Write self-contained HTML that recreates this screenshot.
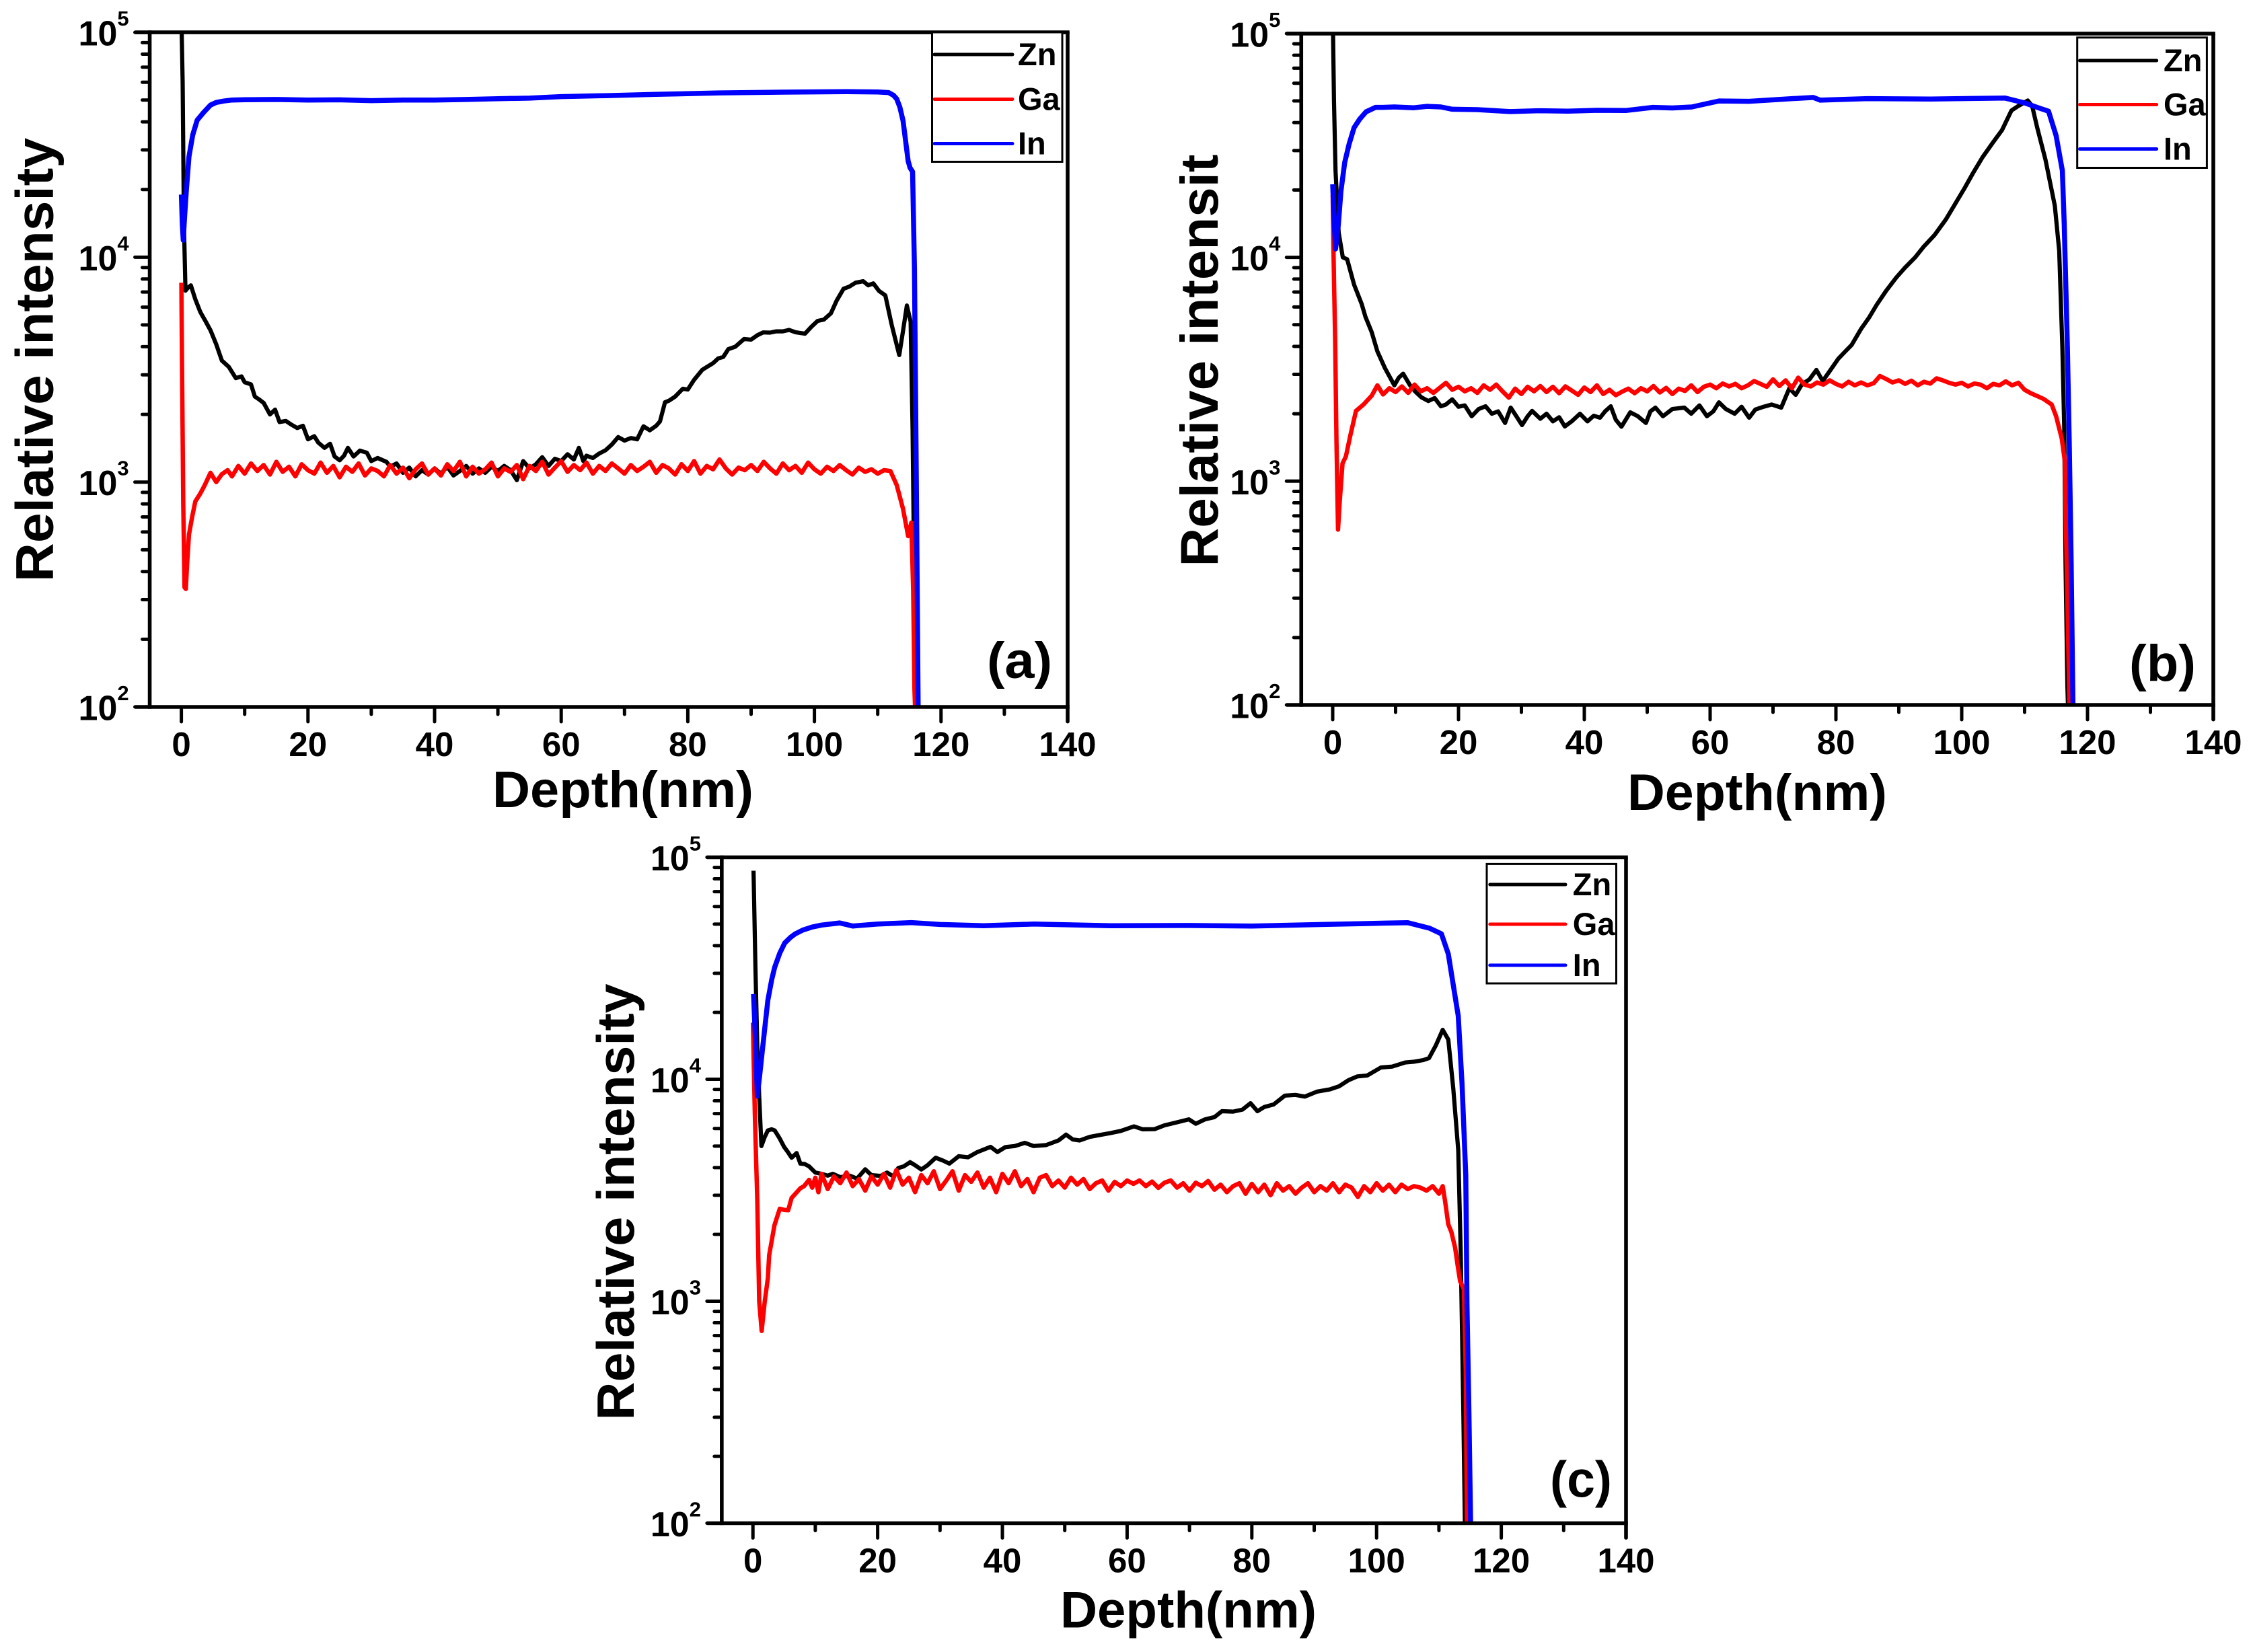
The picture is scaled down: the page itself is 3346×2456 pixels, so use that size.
<!DOCTYPE html>
<html lang="en">
<head>
<meta charset="utf-8">
<title>Relative intensity depth profiles</title>
<style>
html,body{margin:0;padding:0;background:#fff;}
svg{display:block;}
text{font-family:"Liberation Sans",sans-serif;font-weight:bold;fill:#000;}
</style>
</head>
<body>
<svg id="figure" xmlns="http://www.w3.org/2000/svg" width="3346" height="2456" viewBox="0 0 3346 2456"></svg>
<script>
/* shared axis ticks */
const xMajorTicks = [0,20,40,60,80,100,120,140];
const xMinorTicks = [10,30,50,70,90,110,130];
const yDecadeExponents = [2,3,4,5];
const yMinorFactors = [2,3,4,5,6,7,8,9];
const seriesNames = ["Zn","Ga","In"];

/* panel (a) */
const aZnDepth = [
0,0.2,0.4,0.65,1,1.5,2.2,3,3.8,4.6,
5.5,6.4,7.5,8.6,9.5,10,11,11.6,12.3,13,
14,14.8,15.5,16.5,17.4,18.3,19.2,20,21,21.6,
22.6,23.5,24.2,25,25.7,26.3,27.2,28.2,29.3,30,
31,32.4,33,34,35,36,37,38,39,40,
41,42,43,44,45,46,47,48,49,50,
51,52,53,54,55,56,57,58,59,60,
61,62,62.8,63.5,64,65,66,67,68,69,
70,71,72,73,74,75,75.6,76.4,77,78,
79.2,80,81,82.3,83,84,84.8,85.6,86.4,87.5,
88.9,90,91,91.9,93,94,95,96,97,98.5,
99.5,100.5,101.5,102.6,103.5,104.6,105.5,106.5,107.7,108.5,
109.3,110.2,111.2,112.2,113.4,114,114.6,115.2,115.5,115.8,116];
const aZnValues = [
120000,60000,14000,7100,7300,7500,6500,5700,5200,4730,
4100,3470,3250,2900,2950,2780,2720,2400,2330,2250,
2000,2100,1850,1870,1800,1740,1780,1550,1600,1500,
1420,1480,1300,1250,1310,1420,1300,1380,1350,1240,
1280,1230,1170,1210,1100,1160,1060,1130,1080,1150,
1090,1170,1070,1120,1180,1090,1150,1100,1170,1120,
1180,1130,1020,1240,1150,1200,1290,1180,1270,1240,
1330,1260,1420,1240,1310,1280,1340,1385,1470,1585,
1530,1570,1550,1770,1700,1780,1860,2265,2300,2400,
2600,2580,2850,3160,3250,3380,3550,3600,3900,4000,
4330,4300,4500,4630,4620,4680,4680,4750,4640,4570,
4900,5210,5280,5630,6400,7240,7400,7700,7820,7500,
7650,7080,6760,5010,3670,4700,6100,5170,1720,300,80];
const aGaDepth = [
0,0.1,0.3,0.5,0.7,0.9,1.2,1.7,2.2,3,
3.7,4.6,5.5,6.4,7.3,8,9,10,11,12,
13,14,15,16,17,18,19,20,21,22,
23,24,25,26,27,28,29,30,31,32,
33,34,35,36,37,38,39,40,41,42,
43,44,45,46,47,48,49,50,51,52,
53,54,55,56,57,58,59,60,61,62,
63,64,65,66,67,68,69,70,71,72,
73,74,75,76,77,78,79,80,81,82,
83,84,85,86,87,88,89,90,91,92,
93,94,95,96,97,98,99,100,101,102,
103,104,105,106,107,108,109,110,111,112,
113,114,114.8,115.3,115.6,115.8,116];
const aGaValues = [
7700,3500,800,340,335,430,584,700,820,890,
970,1100,1000,1085,1130,1060,1180,1090,1210,1120,
1190,1080,1230,1110,1170,1060,1200,1130,1090,1220,
1100,1180,1050,1170,1110,1210,1070,1150,1120,1060,
1190,1090,1160,1040,1140,1210,1080,1150,1070,1200,
1120,1230,1060,1170,1090,1140,1220,1060,1150,1110,
1190,1030,1180,1120,1230,1080,1160,1240,1110,1190,
1130,1220,1090,1180,1120,1210,1150,1090,1190,1120,
1170,1230,1100,1190,1150,1080,1200,1120,1240,1090,
1180,1140,1260,1150,1080,1160,1130,1190,1120,1230,
1150,1090,1210,1130,1180,1100,1220,1140,1090,1170,
1120,1190,1130,1080,1160,1110,1140,1090,1130,1120,
970,760,575,660,330,120,80];
const aInDepth = [
0,0.15,0.3,0.5,0.8,
1.2,1.8,2.5,3.5,4.6,
5.5,6.7,8,10,15,
20,25,30,35,40,
45,50,55,60,67,
75,85,95,105,110,
111.7,112.5,113,113.5,114,
114.4,114.8,115.1,115.5,115.8,
116.1,116.4];
const aInValues = [
19000,14000,11900,15000,20000,
28000,35000,40700,44000,47500,
48800,49500,50000,50200,50300,
50000,50100,49700,50000,50000,
50300,50700,51000,51800,52300,
53000,53800,54200,54500,54300,
54000,52500,50600,46500,40500,
33000,26800,25000,24000,8900,
1000,90];

/* panel (b) */
const bZnDepth = [
0,0.2,0.45,0.95,1.6,2.3,3.4,4.6,5.2,6.2,
7.1,8.3,9.8,10.5,11.2,12.3,13.2,14.1,15.2,16.2,
17.2,18,19,20,21,22.1,23.2,24.3,25.3,26.3,
27.4,28.3,29.2,30.1,31,31.7,33,34,35,36,
36.9,38,39.3,40.5,41.5,42.5,43.3,44.2,45,45.9,
47.3,48.5,49.8,50.5,51.3,52.5,54,55.9,57,58.3,
59.5,60.5,61.4,62.5,63.9,65,66.2,67.2,68.5,69.8,
71.3,72.6,73.6,74.6,75.8,76.9,77.9,79,80.4,81.5,
82.5,84,85.3,86.5,88,89.6,91,92.6,94,95.7,
97.5,99.3,100.5,101.8,103.3,104.9,106.4,107.9,109,110.5,
111.2,112,113.3,114.8,115.5,116,116.3,116.5,116.8,117];
const bZnValues = [
130000,50000,24400,12900,10000,9800,7550,6200,5430,4630,
3800,3200,2680,2900,3020,2680,2500,2370,2280,2350,
2160,2200,2320,2150,2180,1950,2100,2160,2000,2050,
1820,2130,1950,1780,1950,2060,1900,2000,1850,1930,
1755,1850,2000,1850,1960,1920,2050,2160,1880,1750,
2030,1950,1820,2050,2130,1950,2100,2130,2000,2180,
1950,2050,2250,2100,2000,2150,1920,2090,2150,2200,
2130,2600,2430,2710,2850,3140,2800,3100,3530,3800,
4060,4790,5400,6150,7100,8130,9000,10000,11200,12600,
14800,18000,20500,23800,28000,32400,37000,45300,47500,50200,
47500,38000,27400,17000,10700,3950,1720,430,120,80];
const bGaDepth = [
0,0.1,0.2,0.4,0.6,0.85,1.1,1.56,2.1,2.8,
3.7,4.9,6.2,7.1,8,9,10,11,12,13,
14,15,16,17,18,19,20,21,22,23,
24,25,26,27,28,29,30,31,32,33,
34,35,36,37,38,39,40,41,42,43,
44,45,46,47,48,49,50,51,52,53,
54,55,56,57,58,59,60,61,62,63,
64,65,66,67,68,69,70,71,72,73,
74,75,76,77,78,79,80,81,82,83,
84,85,86,87,88,89,90,91,92,93,
94,95,96,97,98,99,100,101,102,103,
104,105,106,107,108,109,110,111,112,113,
114.3,115,115.9,116.4,116.6,117.1,117.3];
const bGaValues = [
19000,12000,8000,4170,1500,607,800,1200,1290,1600,
2060,2200,2410,2680,2440,2600,2500,2650,2480,2700,
2520,2600,2480,2610,2750,2560,2640,2520,2600,2480,
2680,2560,2700,2520,2360,2590,2450,2640,2520,2660,
2500,2640,2470,2650,2540,2430,2620,2500,2680,2450,
2560,2420,2510,2590,2470,2600,2520,2660,2490,2610,
2450,2590,2530,2680,2500,2640,2700,2600,2730,2650,
2720,2600,2680,2800,2720,2640,2850,2660,2820,2600,
2900,2700,2650,2760,2700,2820,2720,2650,2780,2680,
2760,2680,2740,2950,2860,2760,2820,2720,2810,2680,
2780,2730,2880,2820,2750,2700,2750,2650,2730,2700,
2600,2720,2680,2790,2680,2750,2560,2470,2400,2330,
2200,1950,1550,1230,570,110,70];
const bInDepth = [
0,0.2,0.45,0.9,1.3,
1.9,2.6,3.4,4.3,5.3,
6.8,8,9.8,12.9,15,
17.2,19,23,28.2,33,
37.4,42,46.6,50.9,54,
57.1,61.4,66.2,72,76.4,
77.5,85,95,106.9,110,
112,113.8,115,116,116.3,
116.8,117.1,117.4,117.7];
const bInValues = [
21200,15000,10900,14000,19700,
26500,32000,38000,41500,44700,
46800,46800,47000,46600,47300,
47000,45900,45700,44800,45200,
45000,45400,45300,46800,46500,
47000,50000,49800,51000,51800,
50400,51200,51000,51500,49000,
46800,45000,35000,24400,14000,
3940,1460,432,90];

/* panel (c) */
const cZnDepth = [
0.1,0.4,0.7,1,1.36,1.9,2.4,3,3.5,4.3,
5,5.6,6.2,7,7.6,8.3,9,10,11,12,
12.8,14,15.5,16.7,18,19,20.5,21.5,22.5,23.3,
24.2,25.2,26,27,28,29.3,30.5,31.5,33,34.5,
36,38.1,39.2,40.5,42,43.6,45,47,49,50.2,
51.3,52.4,54,55.5,57.3,59,61.1,62.5,64.4,66,
68,69.9,71,72.5,74,75.2,77,78.5,79.8,80.9,
82,83.5,85.3,87,88.5,90.5,92.5,94,95.5,96.9,
98.5,100.7,102.5,104.6,106,107.5,108.4,109.5,110.6,111.5,
112.3,113.1,113.5,113.9,114.2];
const cZnValues = [
87000,32000,14000,8400,5000,5500,5880,5950,5880,5400,
4960,4700,4430,4650,4170,4150,4050,3800,3750,3680,
3750,3620,3680,3570,3930,3700,3670,3800,3650,3980,
4050,4230,4100,3920,4100,4430,4300,4170,4500,4450,
4700,4960,4700,4950,5000,5170,5000,5050,5300,5630,
5350,5300,5500,5600,5720,5850,6130,5950,5960,6200,
6400,6600,6300,6600,6750,7180,7150,7300,7800,7180,
7500,7700,8440,8500,8350,8800,9000,9300,9900,10300,
10400,11300,11400,11900,12000,12200,12450,14200,16700,15100,
9100,4800,1660,330,85];
const cGaDepth = [
0,0.1,0.3,0.7,1,1.4,1.9,2.4,2.6,3.45,
4.3,5,5.65,6.2,7.6,8.2,9,9.5,10,10.5,
11,12,13,14,15,16,17,18,19,20,
21,22,23,24,25,26,27,28,29,30,
31,32,33,34,35,36,37,38,39,40,
41,42,43,44,45,46,47,48,49,50,
51,52,53,54,55,56,57,58,59,60,
61,62,63,64,65,66,67,68,69,70,
71,72,73,74,75,76,77,78,79,80,
81,82,83,84,85,86,87,88,89,90,
91,92,93,94,95,96,97,98,99,100,
101,102,103,104,105,106,107,108,109,110,
110.6,111,111.5,112,112.6,113,113.4,114,114.3,114.5];
const cGaValues = [
18000,13000,7000,2820,1000,735,1000,1270,1610,2200,
2610,2580,2570,2920,3230,3300,3520,3250,3600,3100,
3750,3200,3650,3400,3800,3300,3550,3150,3650,3350,
3750,3250,3900,3350,3600,3100,3700,3400,3850,3200,
3500,3850,3150,3700,3450,3800,3250,3600,3100,3750,
3400,3850,3300,3550,3100,3600,3700,3300,3500,3250,
3600,3350,3550,3200,3400,3500,3150,3450,3300,3500,
3380,3500,3300,3460,3240,3420,3500,3250,3400,3150,
3420,3300,3480,3180,3350,3100,3300,3400,3050,3380,
3100,3350,3000,3400,3150,3300,3050,3250,3400,3100,
3300,3150,3400,3100,3350,3250,2950,3300,3100,3400,
3150,3350,3100,3350,3200,3300,3250,3150,3300,3050,
3300,2800,2220,2050,1740,1450,1230,1135,485,90];
const cInDepth = [
0.1,0.4,0.7,1.1,1.5,
2,2.4,3,3.5,4.3,
5.1,6,6.8,8,9.5,
11,13.9,16,20,25.4,
30,37,45,57.3,70,
80,91.4,101.3,105,108.5,
110.4,111.5,112.3,113.1,113.7,
114.3,114.5,114.8,115.1];
const cInValues = [
24200,15000,8400,10500,13400,
18000,22700,28000,32000,37000,
41100,43500,45200,47000,48500,
49500,50600,49000,50000,50800,
49800,49200,50000,49200,49300,
49000,49800,50500,50700,47900,
45200,36700,26600,19300,9600,
3700,970,330,90];

const SVG_NS = "http://www.w3.org/2000/svg";
const figure = document.getElementById("figure");
const seriesColors = ["#000000","#ff0000","#0000ff"];
const seriesWidths = [6.2,6.5,7.5];

function make(tag, attrs, parent, content) {
  const el = document.createElementNS(SVG_NS, tag);
  for (const k in attrs) el.setAttribute(k, attrs[k]);
  if (content !== undefined) el.textContent = content;
  parent.appendChild(el);
  return el;
}

function drawPanel(p) {
  const x = d => p.x0 + p.pxPerNm * d;
  const y = v => p.bottom - (Math.log10(v) - 2) * p.decade;
  const left = x(-5);
  const right = x(140);
  const top = y(100000);

  const g = make("g", {}, figure);
  
  

  const defs = make("defs", {}, g);
  const clip = make("clipPath", {id: "clip-" + p.id}, defs);
  make("rect", {x: left, y: top, width: right - left, height: p.bottom - top}, clip);

  /* series */
  const lines = make("g", {"clip-path": "url(#clip-" + p.id + ")", fill: "none", "stroke-linejoin": "round"}, g);
  
  
  p.series.forEach((s, i) => {
    const pts = s.depth.map((d, k) => x(d).toFixed(1) + "," + y(s.values[k]).toFixed(1)).join(" ");
    const line = make("polyline", {points: pts, stroke: seriesColors[i], "stroke-width": seriesWidths[i]}, lines);
    
    
  });

  /* axes frame */
  const axisAttrs = {stroke: "#000", "stroke-width": 5.6, fill: "none"};
  const leftAxis = make("line", Object.assign({x1: left, y1: top - 2.8, x2: left, y2: p.bottom + 2.8}, axisAttrs), g);
  
  
  const bottomAxis = make("line", Object.assign({x1: left - 22, y1: p.bottom, x2: right + 2.8, y2: p.bottom}, axisAttrs), g);
  
  
  const topAxis = make("line", Object.assign({x1: left - 22, y1: top, x2: right + 2.8, y2: top}, axisAttrs), g);
  
  
  const rightAxis = make("line", Object.assign({x1: right, y1: top, x2: right, y2: p.bottom + 23}, axisAttrs), g);
  
  

  /* x ticks */
  const tickAttrs = {stroke: "#000", "stroke-width": 5, "stroke-linecap": "round"};
  xMajorTicks.forEach(t => {
    const tick = make("line", Object.assign({x1: x(t), y1: p.bottom, x2: x(t), y2: p.bottom + 22}, tickAttrs), g);
    
    
    const label = make("text", {x: x(t), y: p.bottom + 73, "font-size": 51, "text-anchor": "middle"}, g, String(t));
    
    
  });
  xMinorTicks.forEach(t => {
    const tick = make("line", Object.assign({x1: x(t), y1: p.bottom, x2: x(t), y2: p.bottom + 11}, tickAttrs), g);
    
    
  });

  /* y ticks */
  yDecadeExponents.forEach(e => {
    const v = Math.pow(10, e);
    const tick = make("line", Object.assign({x1: left - 22, y1: y(v), x2: left, y2: y(v)}, tickAttrs), g);
    
    
    const label = make("text", {x: left - 106, y: y(v) + 19.5, "font-size": 52}, g);
    
    
    make("tspan", {}, label, "10");
    make("tspan", {dy: -29.5, "font-size": 31}, label, String(e));
    if (e < 5) {
      yMinorFactors.forEach(f => {
        const minor = make("line", Object.assign({x1: left - 11, y1: y(v * f), x2: left, y2: y(v * f)}, tickAttrs), g);
        
        
      });
    }
  });

  /* titles */
  const yTitle = make("text", {
    x: 0, y: 0, "font-size": p.yTitle.size, "text-anchor": "middle",
    transform: "translate(" + p.yTitle.x + "," + p.yTitle.cy + ") rotate(-90)",
    textLength: p.yTitle.len, lengthAdjust: "spacingAndGlyphs"
  }, g, p.yTitle.text);
  
  

  const xTitle = make("text", {
    x: p.xTitle.x, y: p.xTitle.y, "font-size": 76,
    textLength: p.xTitle.len, lengthAdjust: "spacingAndGlyphs"
  }, g, "Depth(nm)");
  
  

  const tag = make("text", {
    x: p.tag.x, y: p.tag.y, "font-size": 76,
    textLength: p.tag.len, lengthAdjust: "spacingAndGlyphs"
  }, g, "(" + p.id + ")");
  
  

  /* legend */
  const lg = p.legend;
  const legend = make("g", {}, g);
  
  
  const box = make("rect", {x: lg.x, y: lg.y, width: lg.w, height: lg.h, fill: "#fff", stroke: "#000", "stroke-width": 3}, legend);
  
  
  seriesNames.forEach((n, i) => {
    const entry = make("g", {}, legend);
    
    
    make("line", {x1: lg.lineX1, x2: lg.lineX2, y1: lg.rows[i], y2: lg.rows[i], stroke: seriesColors[i], "stroke-width": 5, "stroke-linecap": "round"}, entry);
    make("text", {x: lg.textX, y: lg.rows[i] + 16, "font-size": 47}, entry, n);
  });
}

drawPanel({
  id: "a", x0: 269.6, pxPerNm: 9.41, bottom: 1051, decade: 334.3,
  series: [
    {depth: aZnDepth, values: aZnValues},
    {depth: aGaDepth, values: aGaValues},
    {depth: aInDepth, values: aInValues}
  ],
  yTitle: {text: "Relative intensity", x: 78.6, cy: 535, len: 660, size: 79},
  xTitle: {x: 732, y: 1200, len: 388},
  tag: {x: 1467, y: 1008, len: 97},
  legend: {x: 1385.5, y: 48, w: 193.5, h: 192.5, lineX1: 1389, lineX2: 1505, textX: 1513, rows: [81, 147.5, 213.5]}
});

drawPanel({
  id: "b", x0: 1981, pxPerNm: 9.35, bottom: 1048, decade: 332.7,
  series: [
    {depth: bZnDepth, values: bZnValues},
    {depth: bGaDepth, values: bGaValues},
    {depth: bInDepth, values: bInValues}
  ],
  yTitle: {text: "Relative intensit", x: 1810, cy: 536, len: 613, size: 79},
  xTitle: {x: 2419, y: 1204, len: 386},
  tag: {x: 3165, y: 1012, len: 99},
  legend: {x: 3087.7, y: 55.8, w: 192.7, h: 193.7, lineX1: 3091.5, lineX2: 3205.7, textX: 3216, rows: [90, 155.5, 221.5]}
});

drawPanel({
  id: "c", x0: 1119.2, pxPerNm: 9.27, bottom: 2264.5, decade: 330,
  series: [
    {depth: cZnDepth, values: cZnValues},
    {depth: cGaDepth, values: cGaValues},
    {depth: cInDepth, values: cInValues}
  ],
  yTitle: {text: "Relative intensity", x: 942, cy: 1787, len: 649, size: 78},
  xTitle: {x: 1576, y: 2419.5, len: 381},
  tag: {x: 2304, y: 2225.5, len: 92},
  legend: {x: 2210, y: 1284.4, w: 192.5, h: 177.6, lineX1: 2214.8, lineX2: 2327, textX: 2337.8, rows: [1315, 1374, 1435]}
});
</script>
</body>
</html>
